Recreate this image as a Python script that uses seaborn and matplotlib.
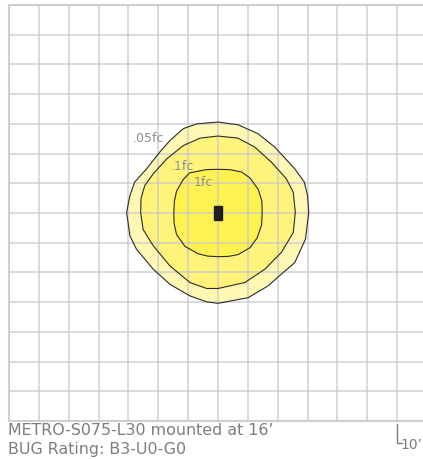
import matplotlib
matplotlib.use('Agg')
import matplotlib.pyplot as plt
import seaborn as sns
from matplotlib.patches import Rectangle

# isolux contours, feet from the pole (grid = 10')
outer_x = [0, 6.7, 13.4, 19.0, 25.7, 28.9, 30.0, 30.4, 29.3, 25.7, 21.2, 16.8, 10.1, 0, -3.8, -9.4,
           -16.1, -21.7, -27.3, -29.5, -30.6, -29.5, -27.9, -23.9, -19.5, -16.1, -11.6, -7.1]
outer_y = [30.6, 29.7, 26.7, 22.2, 14.9, 10.4, 5.9, 0.2, -8.8, -16.7, -20.6, -24.5, -28.5, -30.4, -29.9, -27.9,
           -24.0, -18.9, -12.2, -7.7, 0.2, 5.9, 10.4, 14.9, 20.5, 24.4, 28.4, 30.0]
mid_x = [0, 6.7, 12.3, 17.9, 22.9, 25.2, 25.9, 25.2, 21.2, 15.7, 9.0, 0, -3.8, -9.4,
         -16.1, -21.7, -25.1, -25.9, -25.8, -24.5, -21.7, -17.2, -11.6, -6.0]
mid_y = [25.9, 25.2, 22.2, 17.1, 11.5, 7.0, 0.2, -6.6, -13.3, -18.9, -23.4, -25.4, -25.4, -23.4,
         -17.8, -11.0, -5.5, 0.2, 4.8, 9.3, 13.2, 18.2, 22.7, 25.2]
inner_x = [0, 4.0, 7.9, 10.7, 13.5, 14.7, 14.8, 14.6, 13.1, 10.7, 6.7, 3.5, 0, -3.5, -6.7, -11.1,
           -13.9, -14.7, -14.8, -14.6, -13.9, -11.7, -9.5, -4.0]
inner_y = [14.7, 14.6, 13.8, 11.8, 7.9, 4.0, 0, -4.0, -8.4, -11.7, -14.0, -14.6, -14.7, -14.5, -13.7, -11.2,
           -7.2, -3.5, 0, 4.0, 7.3, 11.2, 13.5, 14.6]

levels = ['.05fc', '.1fc', '1fc']
fills = ['#fff8b4', '#fff37c', '#fff150']
label_x = [-28.6, -15.8, -8.0]
label_y = [23.8, 14.6, 9.0]
fixture_w, fixture_h = 2.4, 5.0

sns.set_style('white')
plt.rcParams['font.family'] = ['DejaVu Sans']

W, H = 423, 459
fig = plt.figure(figsize=(W / 100, H / 100), dpi=100)
ax = fig.add_axes([9 / W, (H - 421) / H, 418 / W, 416 / H])

for cx, cy, col in zip([outer_x, mid_x, inner_x], [outer_y, mid_y, inner_y], fills):
    ax.fill(cx, cy, facecolor=col, edgecolor='none', zorder=1)
    ax.fill(cx, cy, facecolor='none', edgecolor='#2b2b2b', lw=0.8, joinstyle='round', zorder=3)

for name, lx, ly in zip(levels, label_x, label_y):
    ax.text(lx, ly, name, color='#8f8f8f', fontsize=9, va='baseline', ha='left', zorder=4)

ax.add_patch(Rectangle((-fixture_w / 2, -fixture_h / 2), fixture_w, fixture_h,
                       color='#1e1e1e', zorder=5))

ax.set_xlim(-70, 70)
ax.set_ylim(-70, 70)
ax.set_xticks(range(-70, 71, 10))
ax.set_yticks(range(-70, 71, 10))
ax.tick_params(length=0, labelbottom=False, labelleft=False)
ax.grid(True, color='#c6c6cc', alpha=0.75, lw=1.2, zorder=2)
ax.set_axisbelow(False)
for s in ax.spines.values():
    s.set_color('#d2d2d6')
    s.set_linewidth(1.5)

fig.text(8 / W, (H - 435) / H, 'METRO-S075-L30 mounted at 16’', color='#7d7d7d',
         fontsize=11.4, va='baseline')
fig.text(8 / W, (H - 454) / H, 'BUG Rating: B3-U0-G0', color='#7d7d7d',
         fontsize=11.4, va='baseline')

# 10' scale mark
fig.add_artist(plt.Line2D([397 / W, 397 / W, 402 / W], [(H - 424) / H, (H - 443) / H, (H - 443) / H],
                          color='#7d7d7d', lw=1.0))
fig.text(422 / W, (H - 449) / H, '10’', color='#7d7d7d', fontsize=10, va='baseline', ha='right')

fig.savefig('out.png', dpi=100)
